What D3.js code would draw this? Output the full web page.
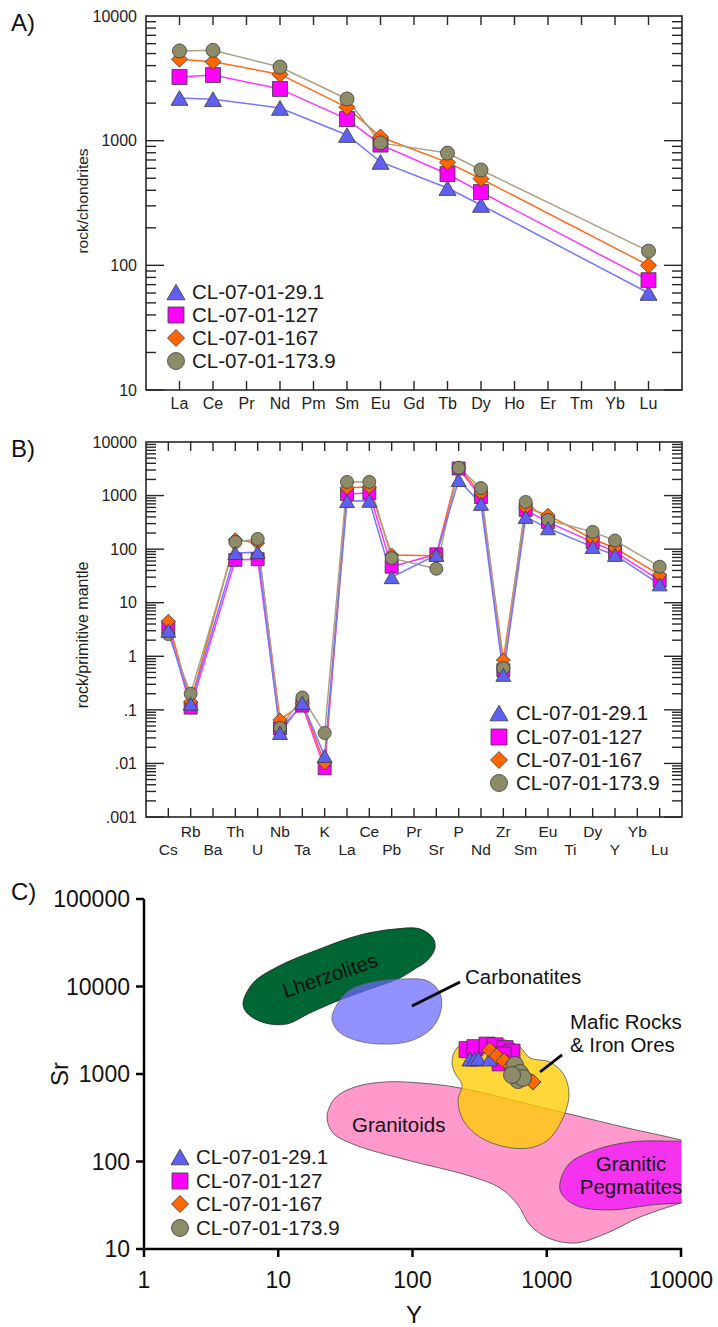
<!DOCTYPE html>
<html><head><meta charset="utf-8">
<script src="https://cdn.jsdelivr.net/npm/d3@7"></script>
<style>
body{margin:0;background:#fff;}
svg{display:block;font-family:"Liberation Sans",Arial,Helvetica,sans-serif;}
</style></head><body>
<svg id="chart" width="718" height="1327"></svg>
<script>
// ---------------- DATA ----------------
const samples = ["CL-07-01-29.1", "CL-07-01-127", "CL-07-01-167", "CL-07-01-173.9"];

// Panel A: REE / chondrite
const reeElements = ["La","Ce","Pr","Nd","Pm","Sm","Eu","Gd","Tb","Dy","Ho","Er","Tm","Yb","Lu"];
const ree_29_1  = [2200, 2150, null, 1830, null, 1110, 675, null, 417, 305, null, null, null, null, 60];
const ree_127   = [3240, 3360, null, 2600, null, 1490, 930, null, 540, 387, null, null, null, null, 76];
const ree_167   = [4500, 4300, null, 3400, null, 1850, 1070, null, 670, 495, null, null, null, null, 100];
const ree_173_9 = [5250, 5300, null, 3900, null, 2160, 960, null, 795, 582, null, null, null, null, 130];
const reeTickValues = [10, 100, 1000, 10000];
const reeTickLabels = ["10", "100", "1000", "10000"];

// Panel B: primitive mantle normalised
const pmElements = ["Cs","Rb","Ba","Th","U","Nb","Ta","K","La","Ce","Pb","Pr","Sr","P","Nd","Zr","Sm","Eu","Ti","Dy","Y","Yb","Lu"];
const pm_29_1  = [3.0, 0.13, null, 85, 88, 0.037, 0.135, 0.0138, 790, 800, 30, null, 78, 1950, 700, 0.45, 400, 245, null, 110, 78, null, 22];
const pm_127   = [3.5, 0.11, null, 63, 65, 0.045, 0.12, 0.0081, 1070, 1120, 47, null, 80, 3200, 940, 0.55, 540, 320, null, 135, 89, null, 26];
const pm_167   = [4.5, 0.14, null, 150, 130, 0.065, 0.13, 0.0102, 1400, 1450, 78, null, 75, 3300, 1100, 0.85, 600, 430, null, 155, 105, null, 33];
const pm_173_9 = [2.6, 0.2, null, 136, 155, 0.046, 0.17, 0.037, 1800, 1800, 68, null, 43, 3300, 1380, 0.6, 760, 350, null, 210, 145, null, 47];
const pmTickValues = [0.001, 0.01, 0.1, 1, 10, 100, 1000, 10000];
const pmTickLabels = [".001", ".01", ".1", "1", "10", "100", "1000", "10000"];

// Panel C: Sr vs Y
const cY_29_1   = [268, 290, 310, 376];
const cSr_29_1  = [1480, 1480, 1500, 1480];
const cY_127    = [255, 292, 359, 412, 489, 551, 472, 449];
const cSr_127   = [1900, 2000, 2140, 2100, 1950, 1780, 1650, 1340];
const cY_167    = [376, 426, 481, 542, 611, 689, 790];
const cSr_167   = [1880, 1610, 1410, 1230, 1080, 950, 810];
const cY_173_9  = [580, 632, 611, 665, 551];
const cSr_173_9 = [1270, 1025, 853, 900, 975];
const cXTicks = [1, 10, 100, 1000, 10000];
const cXTickLabels = ["1", "10", "100", "1000", "10000"];
const cYTicks = [10, 100, 1000, 10000, 100000];
const cYTickLabels = ["10", "100", "1000", "10000", "100000"];

// Field outlines [Y, Sr]
const fieldGranitoids = [[23.1,323],[26.5,532],[37.3,710],[62.4,811],[114,789],[226,692],[891,420],[3700,248],[11670,163],[14000,140],[14000,40],[11670,36.3],[4950,23.2],[2810,15.2],[1624,11.7],[1022,13.4],[750,18.8],[611,31.8],[449,49.8],[268,68.2],[91,104],[37.3,155],[25.6,212]];
const fieldPegmatites = [[1256,47.2],[1440,91.2],[2290,135],[4170,167],[7600,171],[12700,160],[15000,120],[15000,45],[12700,36.3],[5880,31.8],[2960,27.9],[1624,31.8]];
const fieldMafic = [[197,1370],[214,1980],[292,2380],[489,2450],[632,2036],[750,1525],[1057,1370],[1344,975],[1465,575],[1300,298],[1022,176],[750,143],[489,147],[318,190],[238,298],[218,505],[234,748],[207,1026]];
const fieldLherzolites = [[5.46,6310],[6.49,10960],[9.79,16700],[19.4,26100],[40.6,38800],[74,45400],[114,45400],[142,35800],[147,27500],[130,20100],[104,15850],[78,12200],[50.8,9620],[28.8,7020],[17.2,4980],[11.6,3730],[7.96,3830],[5.95,4850]];
const fieldCarbonatites = [[25.1,4365],[28.8,7020],[34.2,9120],[50.8,11250],[88,12200],[130,11560],[160,8430],[163,5380],[140,3360],[95.8,2380],[57.3,2200],[37.3,2450],[27.9,3100]];

// annotation anchors [Y, Sr]
const labelLherz = [24.3, 13500];
const labelCarb = [246, 10690];
const leaderCarb = [[99.1, 5980], [226, 11250]];
const labelMafic1 = [1490, 3270];
const labelMafic2 = [1490, 1780];
const leaderMafic = [[891, 1054], [1300, 1650]];
const labelGranitoids = [35.4, 217];
const labelGranitic = [4245, 77.8];
const labelPegmatites = [4245, 42.5];

// ---------------- STYLE ----------------
const svg = d3.select("#chart");
const AX = "#262626";

const symTriangle = { draw(ctx, w) { const h = w * Math.sqrt(3) / 2; ctx.moveTo(0, -h / 2); ctx.lineTo(w / 2, h / 2); ctx.lineTo(-w / 2, h / 2); ctx.closePath(); } };
const symSquare = { draw(ctx, w) { ctx.rect(-w / 2, -w / 2, w, w); } };
const symDiamond = { draw(ctx, w) { ctx.moveTo(0, -w / 2); ctx.lineTo(w / 2, 0); ctx.lineTo(0, w / 2); ctx.lineTo(-w / 2, 0); ctx.closePath(); } };
const symCircle = { draw(ctx, w) { ctx.moveTo(w / 2, 0); ctx.arc(0, 0, w / 2, 0, 2 * Math.PI); } };

const styles = [
  { sym: symTriangle, fill: "#5f5ff2", line: "#7676ff", a: 17, b: 15, c: 16, leg: 18 },
  { sym: symSquare,   fill: "#ff00ff", line: "#ff33ff", a: 15, b: 13, c: 16, leg: 16 },
  { sym: symDiamond,  fill: "#ff6600", line: "#ff6a1a", a: 16, b: 14, c: 16, leg: 17 },
  { sym: symCircle,   fill: "#8e8c68", line: "#a8a386", a: 14, b: 13, c: 17, leg: 17 }
];

function drawMarker(g, st, size, x, y) {
  g.append("path")
    .attr("d", d3.symbol().type(st.sym).size(size)())
    .attr("transform", `translate(${x},${y})`)
    .attr("fill", st.fill).attr("stroke", "#3a3a3a").attr("stroke-width", 0.8);
}

function legend(g, x, ys, textX, sizeKey) {
  samples.forEach((s, i) => {
    drawMarker(g, styles[i], styles[i].leg, x, ys[i]);
    g.append("text").attr("x", textX).attr("y", ys[i]).attr("dy", "0.36em")
      .attr("font-size", 20.5).attr("fill", "#1a1a1a").text(s);
  });
}

// generic spider panel
function spiderPanel(opts) {
  const { elements, series, order, left, right, top, bottom, domain, tickValues, tickLabels, sizeKey } = opts;
  const g = svg.append("g");
  const x = d3.scalePoint().domain(elements).range([left, right]).padding(1);
  const y = d3.scaleLog().domain(domain).range([bottom, top]);

  // minor + major ticks on left/right
  const lo = Math.round(Math.log10(domain[0])), hi = Math.round(Math.log10(domain[1]));
  for (let k = lo; k < hi; k++) {
    for (let m = 1; m <= 9; m++) {
      const v = m * Math.pow(10, k);
      const len = m === 1 ? 18 : 10;
      const yy = y(v);
      g.append("line").attr("x1", left).attr("x2", left + len).attr("y1", yy).attr("y2", yy)
        .attr("stroke", AX).attr("stroke-width", 1.4);
      g.append("line").attr("x1", right).attr("x2", right - len).attr("y1", yy).attr("y2", yy)
        .attr("stroke", AX).attr("stroke-width", 1.4);
    }
  }
  // category ticks top/bottom
  elements.forEach(e => {
    g.append("line").attr("x1", x(e)).attr("x2", x(e)).attr("y1", top).attr("y2", top + 9)
      .attr("stroke", AX).attr("stroke-width", 1.4);
    g.append("line").attr("x1", x(e)).attr("x2", x(e)).attr("y1", bottom).attr("y2", bottom - 9)
      .attr("stroke", AX).attr("stroke-width", 1.4);
  });
  // frame
  g.append("rect").attr("x", left).attr("y", top).attr("width", right - left).attr("height", bottom - top)
    .attr("fill", "none").attr("stroke", AX).attr("stroke-width", 1.6);
  // y tick labels
  tickValues.forEach((v, i) => {
    g.append("text").attr("x", 137).attr("y", y(v)).attr("dy", "0.36em").attr("text-anchor", "end")
      .attr("font-size", 16).attr("fill", "#222").text(tickLabels[i]);
  });
  // lines
  const line = d3.line().x(d => x(d.e)).y(d => y(d.v));
  order.forEach(i => {
    const pts = elements.map((e, j) => ({ e, v: series[i][j] })).filter(d => d.v != null);
    g.append("path").attr("d", line(pts)).attr("fill", "none")
      .attr("stroke", styles[i].line).attr("stroke-width", 1.5);
  });
  // markers
  order.forEach(i => {
    elements.forEach((e, j) => {
      const v = series[i][j];
      if (v != null) drawMarker(g, styles[i], styles[i][sizeKey], x(e), y(v));
    });
  });
  return { g, x, y };
}

// ---------------- PANEL A ----------------
const A = spiderPanel({
  elements: reeElements, series: [ree_29_1, ree_127, ree_167, ree_173_9], order: [0, 1, 2, 3],
  left: 146, right: 682, top: 16, bottom: 390, domain: [10, 10000],
  tickValues: reeTickValues, tickLabels: reeTickLabels, sizeKey: "a"
});
reeElements.forEach(e => {
  A.g.append("text").attr("x", A.x(e)).attr("y", 409).attr("text-anchor", "middle")
    .attr("font-size", 16).attr("fill", "#222").text(e);
});
svg.append("text").attr("transform", "translate(88,201) rotate(-90)").attr("text-anchor", "middle")
  .attr("font-size", 15.5).attr("fill", "#222").text("rock/chondrites");
svg.append("text").attr("x", 11).attr("y", 31).attr("font-size", 24).attr("fill", "#111").text("A)");
legend(A.g, 176, [292, 315, 338, 361], 192);

// ---------------- PANEL B ----------------
const B = spiderPanel({
  elements: pmElements, series: [pm_29_1, pm_127, pm_167, pm_173_9], order: [1, 2, 3, 0],
  left: 146, right: 682, top: 442, bottom: 817, domain: [0.001, 10000],
  tickValues: pmTickValues, tickLabels: pmTickLabels, sizeKey: "b"
});
pmElements.forEach((e, j) => {
  B.g.append("text").attr("x", B.x(e)).attr("y", j % 2 === 1 ? 837 : 855).attr("text-anchor", "middle")
    .attr("font-size", 15.5).attr("fill", "#222").text(e);
});
svg.append("text").attr("transform", "translate(88,635) rotate(-90)").attr("text-anchor", "middle")
  .attr("font-size", 16).attr("fill", "#222").text("rock/primitive mantle");
svg.append("text").attr("x", 11).attr("y", 457).attr("font-size", 24).attr("fill", "#111").text("B)");
legend(B.g, 499, [713, 737, 760, 783], 516);

// ---------------- PANEL C ----------------
const C = svg.append("g");
const cx = d3.scaleLog().domain([1, 10000]).range([144, 681]);
const cy = d3.scaleLog().domain([10, 100000]).range([1249, 899]);
svg.append("defs").append("clipPath").attr("id", "clipC")
  .append("rect").attr("x", 0).attr("y", 850).attr("width", 681.5).attr("height", 399);

const area = d3.line().x(d => cx(d[0])).y(d => cy(d[1])).curve(d3.curveCatmullRomClosed.alpha(0.5));
const fields = C.append("g").attr("clip-path", "url(#clipC)");
fields.append("path").attr("d", area(fieldGranitoids)).attr("fill", "#ff99cc").attr("stroke", "#444").attr("stroke-width", 0.8);
fields.append("path").attr("d", area(fieldPegmatites)).attr("fill", "#f533ee").attr("stroke", "#444").attr("stroke-width", 0.8);
fields.append("path").attr("d", area(fieldMafic)).attr("fill", "#ffcc00").attr("fill-opacity", 0.78).attr("stroke", "#555").attr("stroke-width", 0.8);
fields.append("path").attr("d", area(fieldLherzolites)).attr("fill", "#006633").attr("stroke", "#222").attr("stroke-width", 0.8);
fields.append("path").attr("d", area(fieldCarbonatites)).attr("fill", "rgb(102,102,255)").attr("fill-opacity", 0.72).attr("stroke", "#666").attr("stroke-width", 0.8);

// field labels
const lab = (p, txt, anchor, extra) => {
  const t = C.append("text").attr("x", cx(p[0])).attr("y", cy(p[1])).attr("font-size", 20.5)
    .attr("fill", "#111").attr("text-anchor", anchor).text(txt);
  if (extra) t.attr("transform", extra);
  return t;
};
lab(labelLherz, "Lherzolites", "middle", `rotate(-19,${cx(labelLherz[0])},${cy(labelLherz[1])})`).attr("dy", "0.36em");
lab(labelCarb, "Carbonatites", "start");
lab(labelMafic1, "Mafic Rocks", "start");
lab(labelMafic2, "& Iron Ores", "start");
lab(labelGranitoids, "Granitoids", "start");
lab(labelGranitic, "Granitic", "middle");
lab(labelPegmatites, "Pegmatites", "middle");
[leaderCarb, leaderMafic].forEach(l => {
  C.append("line").attr("x1", cx(l[0][0])).attr("y1", cy(l[0][1])).attr("x2", cx(l[1][0])).attr("y2", cy(l[1][1]))
    .attr("stroke", "#000").attr("stroke-width", 2.8);
});

// data points
const cSeries = [[cY_29_1, cSr_29_1], [cY_127, cSr_127], [cY_167, cSr_167], [cY_173_9, cSr_173_9]];
[1, 0, 2, 3].forEach(i => {
  cSeries[i][0].forEach((yv, j) => drawMarker(C, styles[i], styles[i].c, cx(yv), cy(cSeries[i][1][j])));
});

// axes
C.append("line").attr("x1", 144).attr("x2", 144).attr("y1", cy(100000)).attr("y2", cy(10) + 1.2).attr("stroke", "#000").attr("stroke-width", 2.5);
C.append("line").attr("x1", cx(1) - 1.2).attr("x2", cx(10000) + 1.2).attr("y1", 1249).attr("y2", 1249).attr("stroke", "#000").attr("stroke-width", 2.5);
cYTicks.forEach((v, i) => {
  C.append("line").attr("x1", 144).attr("x2", 136).attr("y1", cy(v)).attr("y2", cy(v)).attr("stroke", "#000").attr("stroke-width", 2.5);
  C.append("text").attr("x", 130).attr("y", cy(v)).attr("dy", "0.36em").attr("text-anchor", "end")
    .attr("font-size", 23).attr("fill", "#111").text(cYTickLabels[i]);
});
cXTicks.forEach((v, i) => {
  C.append("line").attr("x1", cx(v)).attr("x2", cx(v)).attr("y1", 1249).attr("y2", 1257).attr("stroke", "#000").attr("stroke-width", 2.5);
  C.append("text").attr("x", cx(v)).attr("y", 1288).attr("text-anchor", "middle")
    .attr("font-size", 23).attr("fill", "#111").text(cXTickLabels[i]);
});
svg.append("text").attr("x", 414).attr("y", 1323).attr("text-anchor", "middle").attr("font-size", 24).attr("fill", "#111").text("Y");
svg.append("text").attr("transform", "translate(68,1074) rotate(-90)").attr("text-anchor", "middle").attr("font-size", 24).attr("fill", "#111").text("Sr");
svg.append("text").attr("x", 11).attr("y", 900).attr("font-size", 24).attr("fill", "#111").text("C)");
legend(C, 180, [1157, 1181, 1204, 1228], 196);
</script>
</body></html>
